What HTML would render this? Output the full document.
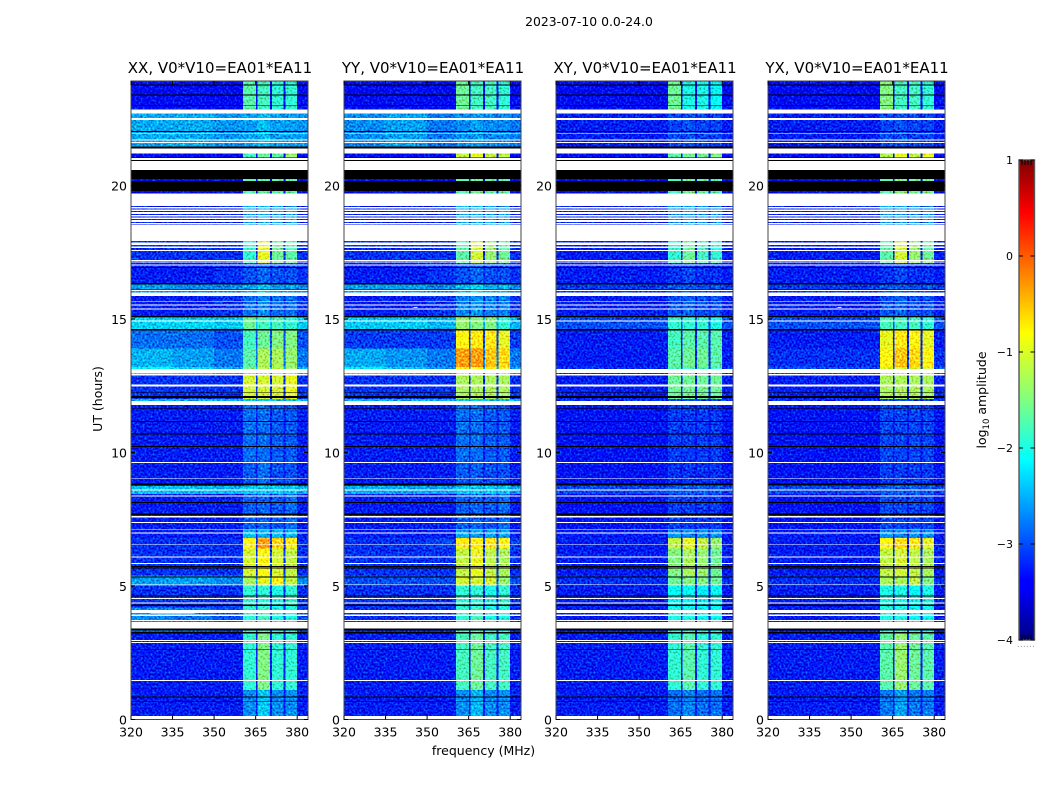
<!DOCTYPE html>
<html>
<head>
<meta charset="utf-8">
<title>Amplitude waterfall 2023-07-10</title>
<style>
html,body{margin:0;padding:0;background:#fff;width:1050px;height:800px;overflow:hidden}
svg{display:block}
text{font-family:"DejaVu Sans","Liberation Sans",sans-serif;fill:#000}
</style>
</head>
<body>
<svg id="figure" xmlns="http://www.w3.org/2000/svg" width="1050" height="800" viewBox="0 0 1050 800">
<defs>
<filter id="speckle" x="0" y="0" width="100%" height="100%" color-interpolation-filters="sRGB">
<feTurbulence type="fractalNoise" baseFrequency="0.5" numOctaves="1" seed="7" result="n"/>
<feColorMatrix in="n" type="matrix" values="0.3 0 0 0 0.35  1.6 0 0 0 -0.3  1.6 0 0 0 -0.3  0 0 0 0 1" result="g"/>
<feComposite in="SourceGraphic" in2="g" operator="arithmetic" k1="0" k2="1" k3="0.7" k4="-0.35"/>
</filter>
<linearGradient id="jet-gradient" x1="0" y1="1" x2="0" y2="0">
<stop offset="0" stop-color="#000080"/>
<stop offset="0.11" stop-color="#0000ff"/>
<stop offset="0.125" stop-color="#0000ff"/>
<stop offset="0.375" stop-color="#00ffff"/>
<stop offset="0.5" stop-color="#80ff80"/>
<stop offset="0.64" stop-color="#ffff00"/>
<stop offset="0.89" stop-color="#ff0000"/>
<stop offset="1" stop-color="#800000"/>
</linearGradient>
</defs>
<text x="589" y="26" font-size="12.4" text-anchor="middle">2023-07-10 0.0-24.0</text>
<text x="483.500" y="755" font-size="12.5" text-anchor="middle">frequency (MHz)</text>
<text x="0" y="0" font-size="12.5" text-anchor="middle" transform="translate(102,399) rotate(-90)">UT (hours)</text>
<g id="panels"></g>
<g id="colorbar">
<rect x="1019" y="160" width="15.500" height="480" fill="url(#jet-gradient)"/>
<rect x="1019" y="160" width="15.500" height="480" fill="none" stroke="#555" stroke-width="1.4"/>
<text font-size="12.5" text-anchor="middle" transform="translate(986,400) rotate(-90)">log<tspan font-size="8.500" dy="3">10</tspan><tspan dy="-3"> amplitude</tspan></text>
<text x="1026" y="647" font-size="9" text-anchor="middle" style="fill:#999;letter-spacing:0.200px">......</text>
</g>
</svg>
<script>
// Axis domains and ticks
const xTicks = [320, 335, 350, 365, 380];
const yTicks = [0, 5, 10, 15, 20];
const colorTicks = [-4, -3, -2, -1, 0, 1];
const colorMinorOffsets = [3, 6, 9, 12];
const panelTitles = ["XX, V0*V10=EA01*EA11", "YY, V0*V10=EA01*EA11", "XY, V0*V10=EA01*EA11", "YX, V0*V10=EA01*EA11"];

// Frequency columns (MHz): three background columns, four receiver bands
const bgFreqEdges = [320, 335, 350, 384];
const bandFreqEdges = [[360.5, 365.1], [365.7, 370.2], [370.9, 375.1], [375.7, 380]];

// Time blocks (UT hours, start at top of each block)
const blockStart = [23.91, 22.8, 21.4, 20.95, 19.6, 17.95, 17.1, 16.35, 15.95, 15.05, 14.6, 13.9, 13.2, 12.9, 12.0, 11.8, 9.7, 8.75, 8.45, 7.1, 6.8, 6.4, 5.4, 5.0, 4.2, 3.3, 1.1];
const blockEnd = [22.8, 21.4, 20.95, 19.6, 17.95, 17.1, 16.35, 15.95, 15.05, 14.6, 13.9, 13.2, 12.9, 12.0, 11.8, 9.7, 8.75, 8.45, 7.1, 6.8, 6.4, 5.4, 5.0, 4.2, 3.3, 1.1, 0];

// log10 amplitude per block: bg320, bg335, bg350, band1..band4
const levelsXX = [
[-3.35,-3.35,-3.35,-1.7,-1.8,-1.9,-1.9],[-2.55,-2.55,-2.65,-2.6,-2.45,-2.6,-2.6],[-3.35,-3.35,-3.35,-1.8,-1.6,-1.7,-1.4],[-3.35,-3.35,-3.35,-1.7,-1.7,-1.7,-1.7],
[-3.25,-3.25,-3.25,-2.6,-2.5,-2.6,-2.6],[-3.15,-3.15,-3.15,-1.9,-1.0,-1.6,-1.7],[-3.25,-3.25,-3.15,-3.0,-2.9,-3.0,-3.0],[-2.6,-2.7,-2.7,-2.6,-2.4,-2.6,-2.6],
[-3.25,-3.25,-3.15,-2.85,-2.7,-2.85,-2.85],[-2.35,-2.35,-2.4,-1.6,-1.8,-1.8,-1.9],[-2.85,-2.85,-3.0,-1.8,-1.6,-1.5,-1.5],[-2.5,-2.6,-2.8,-1.7,-1.3,-1.3,-1.4],
[-2.1,-2.3,-2.5,-1.5,-1.2,-1.2,-1.3],[-3.15,-3.15,-3.15,-1.1,-1.1,-1.1,-1.0],[-2.5,-2.5,-2.5,-2.4,-2.4,-2.4,-2.4],[-3.25,-3.25,-3.25,-2.85,-2.85,-2.95,-2.95],
[-3.25,-3.25,-3.25,-2.95,-2.85,-3.0,-3.0],[-2.45,-2.45,-2.5,-2.4,-2.4,-2.4,-2.4],[-3.25,-3.25,-3.25,-2.95,-2.9,-2.95,-2.85],[-3.25,-3.25,-3.25,-2.5,-2.5,-2.5,-2.5],
[-3.15,-3.15,-3.15,-0.9,-0.4,-0.7,-0.8],[-3.15,-3.15,-3.15,-1.1,-0.9,-1.1,-1.2],[-2.6,-2.6,-2.7,-1.3,-1.0,-0.9,-1.2],[-3.15,-3.15,-3.15,-1.9,-1.9,-2.0,-1.9],
[-2.7,-2.8,-3.0,-1.9,-1.8,-2.0,-2.0],[-3.25,-3.25,-3.25,-1.9,-1.5,-1.9,-1.9],[-3.25,-3.25,-3.25,-2.7,-2.4,-2.7,-2.7]];
const levelsYY = [
[-3.35,-3.35,-3.35,-1.6,-1.8,-1.8,-1.9],[-2.7,-2.6,-2.8,-2.7,-2.6,-2.7,-2.7],[-3.35,-3.35,-3.35,-1.2,-1.0,-1.2,-1.2],[-3.35,-3.35,-3.35,-1.7,-1.6,-1.7,-1.7],
[-3.25,-3.25,-3.25,-2.55,-2.5,-2.6,-2.6],[-3.15,-3.15,-3.15,-1.7,-1.1,-1.4,-1.6],[-3.25,-3.25,-3.15,-3.0,-2.9,-3.0,-3.0],[-2.6,-2.6,-2.7,-2.5,-2.3,-2.5,-2.5],
[-3.25,-3.25,-3.15,-2.75,-2.65,-2.75,-2.75],[-2.4,-2.4,-2.5,-1.4,-1.5,-1.5,-1.9],[-3.1,-3.1,-3.1,-0.9,-0.8,-0.8,-1.0],[-2.55,-2.65,-2.8,-0.4,-0.4,-0.6,-0.7],
[-2.2,-2.4,-2.6,-0.9,-0.9,-0.9,-1.0],[-3.15,-3.15,-3.15,-1.3,-1.3,-1.3,-1.3],[-2.5,-2.5,-2.5,-2.4,-2.4,-2.4,-2.4],[-3.25,-3.25,-3.25,-2.85,-2.85,-2.95,-2.95],
[-3.25,-3.25,-3.25,-2.95,-2.95,-3.0,-3.0],[-2.55,-2.55,-2.6,-2.4,-2.4,-2.4,-2.4],[-3.25,-3.25,-3.25,-2.95,-2.9,-2.95,-2.85],[-3.25,-3.25,-3.25,-2.6,-2.6,-2.6,-2.6],
[-3.15,-3.15,-3.05,-0.8,-0.8,-0.8,-0.9],[-3.15,-3.15,-3.15,-1.2,-1.0,-1.2,-1.3],[-3.0,-3.0,-3.0,-1.1,-1.1,-1.1,-1.4],[-3.15,-3.15,-3.15,-1.9,-1.9,-2.0,-1.9],
[-3.15,-3.15,-3.15,-1.9,-1.8,-2.0,-2.0],[-3.25,-3.25,-3.25,-1.8,-1.6,-1.8,-1.8],[-3.25,-3.25,-3.25,-2.7,-2.5,-2.7,-2.7]];
const levelsXY = [
[-3.35,-3.35,-3.35,-1.6,-2.0,-2.0,-2.1],[-3.25,-3.25,-3.25,-3.05,-3.0,-3.05,-3.05],[-3.35,-3.35,-3.35,-1.7,-1.6,-1.6,-1.5],[-3.35,-3.35,-3.35,-1.8,-1.6,-1.7,-1.8],
[-3.25,-3.25,-3.25,-2.7,-2.6,-2.7,-2.7],[-3.25,-3.25,-3.25,-1.9,-1.6,-1.8,-1.9],[-3.25,-3.25,-3.25,-3.15,-3.05,-3.15,-3.15],[-3.1,-3.1,-3.1,-3.0,-2.95,-3.0,-3.0],
[-3.25,-3.25,-3.25,-3.0,-2.9,-3.0,-3.0],[-3.0,-3.0,-3.0,-1.9,-1.9,-1.9,-2.0],[-3.25,-3.25,-3.25,-1.8,-1.7,-1.7,-1.7],[-3.25,-3.25,-3.25,-1.7,-1.6,-1.6,-1.7],
[-3.15,-3.15,-3.15,-1.8,-1.8,-1.8,-1.8],[-3.25,-3.25,-3.25,-1.6,-1.6,-1.6,-1.6],[-3.15,-3.15,-3.15,-3.05,-3.05,-3.05,-3.05],[-3.3,-3.3,-3.3,-3.1,-3.1,-3.1,-3.1],
[-3.3,-3.3,-3.3,-3.15,-3.15,-3.15,-3.15],[-3.05,-3.05,-3.05,-2.95,-2.95,-2.95,-2.95],[-3.3,-3.3,-3.3,-3.1,-3.1,-3.1,-3.1],[-3.25,-3.25,-3.25,-2.7,-2.7,-2.7,-2.7],
[-3.25,-3.25,-3.25,-1.2,-1.0,-1.2,-1.4],[-3.25,-3.25,-3.25,-1.5,-1.3,-1.4,-1.6],[-3.15,-3.15,-3.15,-1.6,-1.5,-1.5,-1.6],[-3.25,-3.25,-3.25,-2.1,-2.1,-2.2,-2.1],
[-3.25,-3.25,-3.25,-2.0,-2.0,-2.1,-2.1],[-3.25,-3.25,-3.25,-1.9,-1.7,-1.9,-1.9],[-3.25,-3.25,-3.25,-2.85,-2.75,-2.85,-2.85]];
const levelsYX = [
[-3.35,-3.35,-3.35,-1.5,-1.8,-1.8,-1.9],[-3.25,-3.25,-3.25,-3.05,-3.0,-3.05,-3.05],[-3.35,-3.35,-3.35,-1.3,-1.0,-1.2,-1.0],[-3.35,-3.35,-3.35,-1.7,-1.5,-1.6,-1.6],
[-3.25,-3.25,-3.25,-2.6,-2.6,-2.7,-2.7],[-3.25,-3.25,-3.25,-1.7,-1.1,-1.4,-1.6],[-3.25,-3.25,-3.25,-3.15,-3.05,-3.15,-3.15],[-3.1,-3.1,-3.1,-3.0,-2.95,-3.0,-3.0],
[-3.25,-3.25,-3.25,-3.0,-2.9,-3.0,-3.0],[-3.0,-3.0,-3.0,-1.8,-1.8,-1.8,-1.9],[-3.25,-3.25,-3.25,-1.0,-0.8,-0.9,-1.0],[-3.15,-3.15,-3.15,-0.9,-0.6,-0.7,-0.9],
[-3.0,-3.0,-3.0,-1.1,-1.1,-1.1,-1.1],[-3.25,-3.25,-3.25,-1.3,-1.3,-1.3,-1.3],[-3.15,-3.15,-3.15,-3.05,-3.05,-3.05,-3.05],[-3.3,-3.3,-3.3,-3.05,-3.05,-3.05,-3.05],
[-3.3,-3.3,-3.3,-3.1,-3.1,-3.1,-3.1],[-3.05,-3.05,-3.05,-2.95,-2.95,-2.95,-2.95],[-3.3,-3.3,-3.3,-3.05,-3.05,-3.05,-3.05],[-3.25,-3.25,-3.25,-2.7,-2.7,-2.7,-2.7],
[-3.25,-3.25,-3.25,-0.9,-0.7,-0.8,-1.0],[-3.25,-3.25,-3.25,-1.2,-1.1,-1.2,-1.3],[-3.15,-3.15,-3.15,-1.3,-1.3,-1.2,-1.5],[-3.25,-3.25,-3.25,-2.0,-2.0,-2.1,-2.0],
[-3.25,-3.25,-3.25,-2.0,-2.0,-2.1,-2.1],[-3.25,-3.25,-3.25,-1.7,-1.4,-1.6,-1.7],[-3.25,-3.25,-3.25,-2.8,-2.6,-2.8,-2.8]];
const panelLevels = [levelsXX, levelsYY, levelsXY, levelsYX];

// Flagged (white) and zero-amplitude (black) time ranges, UT hours
const whiteRanges = [
[22.85,22.70],[22.52,22.46],[21.97,21.94],[21.73,21.69],[21.63,21.59],[21.38,21.19],[21.03,20.96],[20.92,20.58],[19.70,19.24],
[19.20,19.14],[19.10,19.04],[19.00,18.94],[18.90,18.84],[18.80,18.74],[18.70,18.64],[18.60,18.54],[18.52,17.92],[17.86,17.78],
[17.71,17.66],[17.58,17.55],[17.21,17.15],[17.11,17.09],[17.05,17.01],[16.09,16.05],[15.99,15.86],[15.66,15.63],[15.54,15.51],
[15.41,15.39],[15.35,15.33],[14.94,14.91],[13.12,12.97],[12.94,12.88],[12.57,12.54],[12.52,12.48],[11.93,11.78],[9.64,9.61],
[9.03,9.00],[8.61,8.58],[8.39,8.36],[7.63,7.57],[7.40,7.36],[7.12,7.09],[7.00,6.96],[6.57,6.55],[6.10,6.06],[5.86,5.82],
[5.06,5.03],[4.55,4.51],[4.39,4.35],[4.10,3.98],[3.93,3.87],[3.73,3.68],[3.65,3.40],[2.98,2.94],[2.90,2.86],[1.48,1.44],[0.13,0]];
const blackRanges = [
[23.78,23.75],[23.41,23.38],[23.02,22.99],[22.04,22.01],[21.47,21.38],[21.04,21.03],[20.96,20.92],[20.58,20.24],[20.17,19.79],
[16.94,16.91],[16.34,16.29],[16.12,16.10],[15.11,15.08],[14.62,14.56],[12.27,12.24],[12.12,12.05],[11.67,11.64],[11.18,11.15],
[10.71,10.68],[10.24,10.21],[8.84,8.79],[8.15,8.11],[7.72,7.66],[5.75,5.72],[5.69,5.66],[5.35,5.31],[4.64,4.60],[4.31,4.25],
[3.40,3.33],[3.28,3.23],[2.63,2.61],[0.87,0.83],[0.68,0.66]];

// Isolated bright spots: panel index, start MHz, end MHz, UT hour, log10 amplitude
const hotPanel = [0, 0, 1, 3];
const hotFreqStart = [345, 327, 345, 345];
const hotFreqEnd = [347, 343, 346.5, 346.500];
const hotHour = [15.43, 3.97, 15.43, 15.43];
const hotLevel = [0.1, -0.6, -0.9, -0.9];

// Axis functions
const NS = "http://www.w3.org/2000/svg";
const panelLeft = [131, 344, 556, 768];
const plotWidth = 177, plotTop = 81, plotBottom = 719.5;
const xScale = f => (f - 320) * 2.77;
const yScale = h => plotBottom - h * 26.7;

function jet(v) {
  const t = Math.max(0, Math.min(1, (v + 4) / 5));
  const ramp = c => Math.round(255 * Math.max(0, Math.min(1, 1.5 - Math.abs(4 * t - c))));
  return "rgb(" + ramp(3) + "," + ramp(2) + "," + ramp(1) + ")";
}
function make(tag, attrs, parent) {
  const el = document.createElementNS(NS, tag);
  for (const k in attrs) el.setAttribute(k, attrs[k]);
  parent.appendChild(el);
  return el;
}
function band(parent, x0, x1, h0, h1, fill) {
  const el = make("rect", {x: x0, y: yScale(h0), width: x1 - x0, height: yScale(h1) - yScale(h0), fill: fill, "shape-rendering": "crispEdges"}, parent);
  return el;
}

const panelsRoot = document.getElementById("panels");
panelTitles.forEach((title, p) => {
  const left = panelLeft[p];
  const g = make("g", {transform: "translate(" + left + ",0)"}, panelsRoot);
  
  

  const heat = make("g", {filter: "url(#speckle)"}, g);
  
  
  const levels = panelLevels[p];
  blockStart.forEach((h0, b) => {
    const h1 = blockEnd[b];
    const row = levels[b];
    for (let c = 0; c < 3; c++) {
      const cell = band(heat, xScale(bgFreqEdges[c]), Math.min(xScale(bgFreqEdges[c + 1]), plotWidth), h0, h1, jet(row[c]));
      
      
    }
    bandFreqEdges.forEach((edge, k) => {
      const cell = band(heat, xScale(edge[0]), xScale(edge[1]), h0, h1, jet(row[3 + k]));
      
      
    });
  });
  hotPanel.forEach((hp, i) => {
    if (hp !== p) return;
    const spot = band(g, xScale(hotFreqStart[i]), xScale(hotFreqEnd[i]), hotHour[i] + 0.02, hotHour[i] - 0.02, jet(hotLevel[i]));
    
    
  });
  whiteRanges.forEach(r => {
    const flag = band(g, 0, plotWidth, r[0], r[1], "#fff");
    
    
  });
  blackRanges.forEach(r => {
    const gap = band(g, 0, plotWidth, r[0], r[1], "#000");
    
    
  });

  const frame = make("rect", {x: 0, y: plotTop, width: plotWidth, height: plotBottom - plotTop, fill: "none", stroke: "#444", "stroke-width": 1}, g);
  
  

  xTicks.forEach(t => {
    const x = xScale(t);
    const up = make("line", {x1: x, x2: x, y1: plotBottom, y2: plotBottom - 4, stroke: "#000"}, g);
    
    
    const down = make("line", {x1: x, x2: x, y1: plotTop, y2: plotTop + 4, stroke: "#000"}, g);
    
    
    const lab = make("text", {x: x, y: plotBottom + 17, "font-size": 12.5, "text-anchor": "middle"}, g);
    lab.textContent = t;
    
    
  });
  yTicks.forEach(t => {
    const y = yScale(t);
    const l = make("line", {x1: 0, x2: 4, y1: y, y2: y, stroke: "#000"}, g);
    
    
    const r = make("line", {x1: plotWidth, x2: plotWidth - 4, y1: y, y2: y, stroke: "#000"}, g);
    
    
    const lab = make("text", {x: -4, y: y + 5, "font-size": 12.5, "text-anchor": "end"}, g);
    lab.textContent = t;
    
    
  });

  const ttl = make("text", {x: plotWidth / 2 + 0.5, y: 73, "font-size": 15, "text-anchor": "middle"}, g);
  ttl.textContent = title;
  
  
});

// Colorbar ticks
const cbRoot = document.getElementById("colorbar");
const cbScale = v => 640 - (v + 4) * 96;
colorTicks.forEach(v => {
  const y = cbScale(v);
  const a = make("line", {x1: 1019, x2: 1023, y1: y, y2: y, stroke: "#000"}, cbRoot);
  
  
  const b = make("line", {x1: 1034.5, x2: 1030.5, y1: y, y2: y, stroke: "#000"}, cbRoot);
  
  
  const lab = make("text", {x: 1013, y: y + 4, "font-size": 11, "text-anchor": "end"}, cbRoot);
  lab.textContent = String(v).replace("-", "\u2212");
  
  
});
colorMinorOffsets.forEach(dx => {
  const top = make("line", {x1: 1019 + dx, x2: 1019 + dx, y1: 160, y2: 165, stroke: "#000"}, cbRoot);
  
  
  const bottom = make("line", {x1: 1019 + dx, x2: 1019 + dx, y1: 640, y2: 635, stroke: "#000"}, cbRoot);
  
  
});
</script>
</body>
</html>
